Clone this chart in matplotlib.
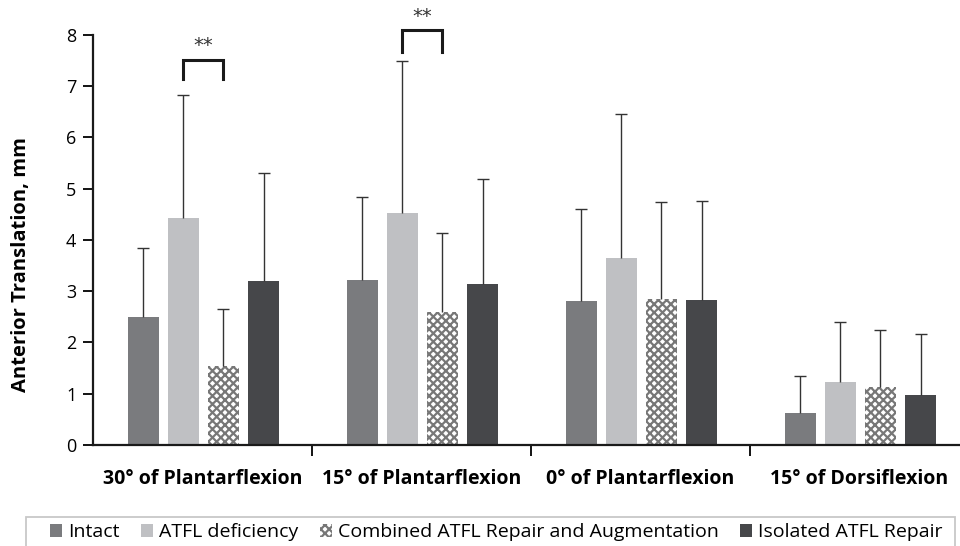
import numpy as np
import matplotlib.pyplot as plt
from matplotlib.patches import Patch, Rectangle

# data
positions = ["30° of Plantarflexion", "15° of Plantarflexion",
             "0° of Plantarflexion", "15° of Dorsiflexion"]
groups = ["Intact", "ATFL deficiency",
          "Combined ATFL Repair and Augmentation", "Isolated ATFL Repair"]
intact = [2.50, 3.22, 2.80, 0.63]
intact_sd = [1.35, 1.61, 1.80, 0.72]
deficiency = [4.43, 4.53, 3.65, 1.23]
deficiency_sd = [2.39, 2.97, 2.80, 1.17]
combined = [1.55, 2.60, 2.85, 1.13]
combined_sd = [1.10, 1.53, 1.90, 1.11]
isolated = [3.20, 3.15, 2.82, 0.97]
isolated_sd = [2.10, 2.03, 1.94, 1.20]

means = [intact, deficiency, combined, isolated]
sds = [intact_sd, deficiency_sd, combined_sd, isolated_sd]
colors = ["#7a7b7e", "#bfc0c3", "white", "#46474a"]

plt.rcParams['font.family'] = ['Open Sans', 'DejaVu Sans']
plt.rcParams['hatch.linewidth'] = 1.6

fig = plt.figure(figsize=(9.6, 5.46), dpi=100)
ax = fig.add_axes([0.0969, 0.185, 0.9125, 0.751])

x = np.arange(len(positions))
offsets = [-0.27, -0.087, 0.094, 0.279]
w = 0.142
for i in range(4):
    if i == 2:
        ax.bar(x + offsets[i], means[i], w, color="white", edgecolor="#777777",
               hatch="xxxx", linewidth=0, zorder=2)
    else:
        ax.bar(x + offsets[i], means[i], w, color=colors[i], zorder=2)
    eb = ax.errorbar(x + offsets[i], means[i], yerr=[np.zeros(4), sds[i]], fmt="none",
                     ecolor="#333333", elinewidth=1, capsize=4.5, capthick=1, zorder=3)
    eb[1][0].set_visible(False)  # no cap at the bar top

# significance brackets
sig = [(0, 7.15, 7.52), (1, 7.67, 8.1)]
for g, low, high in sig:
    x1 = g + offsets[1]
    x2 = g + offsets[2]
    ax.plot([x1, x1, x2, x2], [low, high, high, low], color="#1a1a1a", lw=2.2,
            clip_on=False, solid_joinstyle="miter")
    ax.text((x1 + x2) / 2, high + 0.08, "**", ha="center", va="bottom",
            fontsize=14, color="#333333", family="DejaVu Sans", clip_on=False)

ax.set_xlim(-0.5, 3.5)
ax.set_ylim(0, 8)
ax.set_yticks(range(0, 9))
ax.tick_params(axis="y", labelsize=13, direction="out", length=7, width=1.3, pad=5)
ax.set_xticks(x)
ax.set_xticklabels(positions, fontsize=14, fontweight="bold")
ax.tick_params(axis="x", length=0, pad=17)
ax.set_xticks([0.5, 1.5, 2.5], minor=True)
ax.tick_params(axis="x", which="minor", length=8, width=1.3, direction="out")
ax.set_ylabel("Anterior Translation, mm", fontsize=14.5, fontweight="bold")
ax.yaxis.set_label_coords(-0.071, 0.44)
for s in ["top", "right"]:
    ax.spines[s].set_visible(False)
for s in ["left", "bottom"]:
    ax.spines[s].set_linewidth(1.6)
    ax.spines[s].set_color("#1a1a1a")

handles = [Patch(facecolor=colors[0]), Patch(facecolor=colors[1]),
           Patch(facecolor="white", edgecolor="#777777", hatch="xxxx", linewidth=0),
           Patch(facecolor=colors[3])]
leg = fig.legend(handles, groups, loc="center", bbox_to_anchor=(0.517, 0.025),
                 ncol=4, fontsize=14, frameon=False,
                 handlelength=0.62, handleheight=0.62, handletextpad=0.3,
                 columnspacing=1.1, borderpad=0)
fig.patches.append(Rectangle((26 / 960, -0.05), 929 / 960, 0.05 + 29 / 546,
                             transform=fig.transFigure, fill=False,
                             edgecolor="#c8c8c8", linewidth=1.3))

fig.savefig("out.png", dpi=100)
